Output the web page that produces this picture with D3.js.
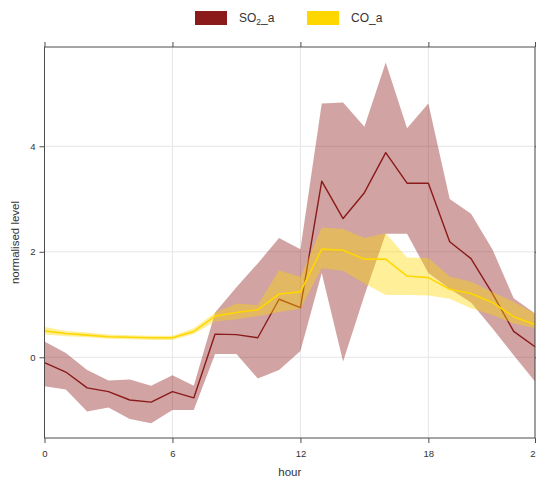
<!DOCTYPE html>
<html>
<head>
<meta charset="utf-8">
<script src="https://cdn.jsdelivr.net/npm/d3@7"></script>
<style>
  html, body { margin: 0; padding: 0; background: #fff; }
  svg { display: block; font-family: "Liberation Sans", Arial, sans-serif; }
</style>
</head>
<body>
<svg id="chart" width="536" height="477"></svg>
<script>
// Hour of day (x categories)
const hours = [0,1,2,3,4,5,6,7,8,9,10,11,12,13,14,15,16,17,18,19,20,21,22,23];

// SO2_a: mean and confidence interval, normalised
const so2Mean  = [-0.10,-0.28,-0.58,-0.65,-0.81,-0.85,-0.65,-0.77,0.44,0.43,0.37,1.10,0.94,3.34,2.63,3.12,3.88,3.30,3.30,2.19,1.87,1.21,0.49,0.20];
const so2Lower = [-0.55,-0.61,-1.03,-0.95,-1.17,-1.25,-1.00,-1.00,0.06,0.06,-0.40,-0.24,0.12,1.60,-0.08,1.17,2.34,2.34,1.60,1.30,1.04,0.55,0.04,-0.46];
const so2Upper = [0.30,0.08,-0.24,-0.44,-0.42,-0.54,-0.34,-0.54,0.85,1.33,1.78,2.26,2.05,4.81,4.83,4.37,5.59,4.34,4.81,3.00,2.72,2.05,1.12,0.83];

// CO_a: mean and confidence interval, normalised
const coMean  = [0.50,0.45,0.42,0.39,0.38,0.37,0.37,0.49,0.78,0.85,0.90,1.20,1.24,2.05,2.03,1.86,1.86,1.54,1.51,1.29,1.21,1.04,0.77,0.62];
const coLower = [0.43,0.40,0.38,0.35,0.34,0.33,0.33,0.44,0.68,0.72,0.78,0.86,0.92,1.69,1.64,1.40,1.18,1.18,1.17,1.11,0.93,0.80,0.64,0.55];
const coUpper = [0.58,0.50,0.47,0.43,0.42,0.41,0.41,0.55,0.85,1.02,0.99,1.65,1.52,2.46,2.43,2.26,2.35,1.89,1.88,1.53,1.43,1.24,1.05,0.83];

// Axis ticks
const xTicks = [0, 6, 12, 18, 23];
const yTicks = [0, 2, 4];

const svg = d3.select("#chart");
const pLeft = 44.5, pRight = 535, pTop = 47, pBottom = 438;

const x = d3.scaleLinear().domain([0, 23]).range([pLeft, pRight]);
const y = d3.scaleLinear().domain([-1.53, 5.882]).range([pBottom, pTop]);

const frameCol = "#4d4d4d";
const textCol = "#333";

// Grid
const grid = svg.append("g");
grid.selectAll("line.gx").data(xTicks).join("line")
  .attr("x1", d => x(d)).attr("x2", d => x(d))
  .attr("y1", pTop).attr("y2", pBottom)
  .attr("stroke", "#e6e6e6").attr("stroke-width", 1);
grid.selectAll("line.gy").data(yTicks).join("line")
  .attr("x1", pLeft).attr("x2", pRight)
  .attr("y1", d => y(d)).attr("y2", d => y(d))
  .attr("stroke", "#e6e6e6").attr("stroke-width", 1);

// Series: band, then mean line
const series = [
  { name: "SO2_a", color: "#8B1A1A", mean: so2Mean, lower: so2Lower, upper: so2Upper, lw: 1.4 },
  { name: "CO_a",  color: "#FFD700", mean: coMean,  lower: coLower,  upper: coUpper,  lw: 1.6 }
];

const area = d3.area()
  .x(d => x(d.h)).y0(d => y(d.lo)).y1(d => y(d.hi));
const line = d3.line()
  .x(d => x(d.h)).y(d => y(d.m));

const plot = svg.append("g");
series.forEach(s => {
  const rows = hours.map((h, i) => ({ h, m: s.mean[i], lo: s.lower[i], hi: s.upper[i] }));
  plot.append("path").datum(rows)
    .attr("d", area)
    .attr("fill", s.color).attr("fill-opacity", 0.4).attr("stroke", "none");
  plot.append("path").datum(rows)
    .attr("d", line)
    .attr("fill", "none").attr("stroke", s.color).attr("stroke-width", s.lw)
    .attr("stroke-linejoin", "round");
});

// Frame
svg.append("rect")
  .attr("x", pLeft).attr("y", pTop)
  .attr("width", pRight - pLeft).attr("height", pBottom - pTop)
  .attr("fill", "none").attr("stroke", frameCol).attr("stroke-width", 1);

// Axes
function styleAxis(g) {
  g.select(".domain").remove();
  g.selectAll(".tick line").attr("stroke", frameCol);
  g.selectAll(".tick text").attr("fill", textCol).attr("font-size", "9.5px")
    .attr("font-family", "Liberation Sans, Arial, sans-serif");
}
svg.append("g").attr("transform", `translate(0,${pBottom})`)
  .call(d3.axisBottom(x).tickValues(xTicks).tickFormat(d3.format("d")).tickSize(5).tickPadding(7))
  .call(styleAxis);
svg.append("g").attr("transform", `translate(0,${pTop})`)
  .call(d3.axisTop(x).tickValues(xTicks).tickFormat("").tickSize(5))
  .call(styleAxis);
svg.append("g").attr("transform", `translate(${pLeft},0)`)
  .call(d3.axisLeft(y).tickValues(yTicks).tickFormat(d3.format("d")).tickSize(5).tickPadding(4))
  .call(styleAxis);
svg.append("g").attr("transform", `translate(${pRight},0)`)
  .call(d3.axisRight(y).tickValues(yTicks).tickFormat("").tickSize(5))
  .call(styleAxis);

// Axis titles
svg.append("text")
  .attr("x", (pLeft + pRight) / 2).attr("y", 476)
  .attr("text-anchor", "middle").attr("font-size", "11.5px").attr("fill", textCol)
  .text("hour");
svg.append("text")
  .attr("transform", `translate(19,${(pTop + pBottom) / 2}) rotate(-90)`)
  .attr("text-anchor", "middle").attr("font-size", "11.5px").attr("fill", textCol)
  .text("normalised level");

// Legend
const legend = svg.append("g");
const legendX = [195, 307];
series.forEach((s, i) => {
  legend.append("rect")
    .attr("x", legendX[i]).attr("y", 11).attr("width", 32).attr("height", 14)
    .attr("fill", s.color);
  const t = legend.append("text")
    .attr("x", legendX[i] + 44).attr("y", 22)
    .attr("font-size", "12px").attr("fill", textCol);
  if (s.name === "SO2_a") {
    t.append("tspan").text("SO");
    t.append("tspan").attr("font-size", "8.5px").attr("dy", 3).text("2");
    t.append("tspan").attr("dy", -3).text("_a");
  } else {
    t.text(s.name);
  }
});
</script>
</body>
</html>
